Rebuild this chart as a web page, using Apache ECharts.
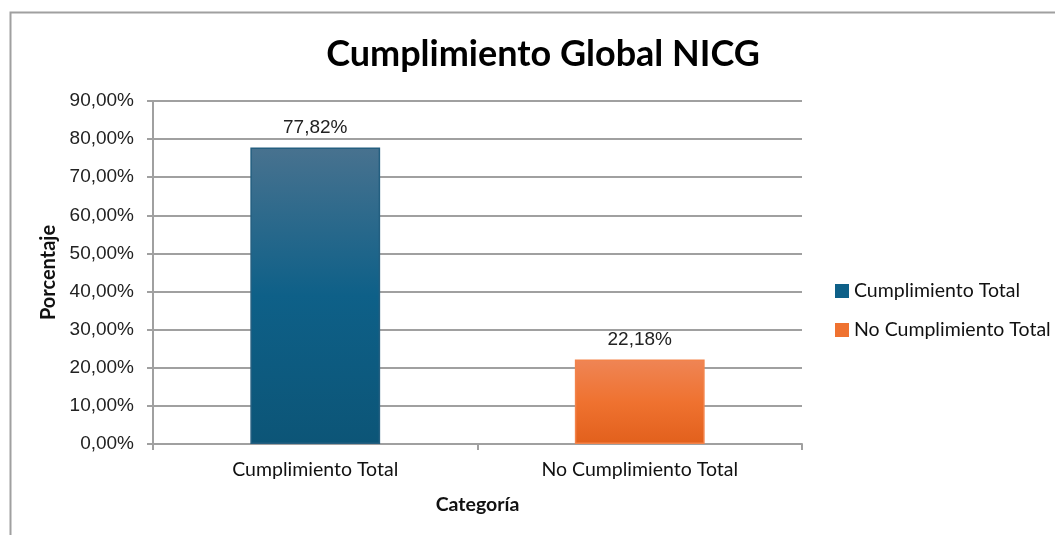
<!DOCTYPE html>
<html>
<head>
<meta charset="utf-8">
<script src="https://cdn.jsdelivr.net/npm/echarts@6/dist/echarts.min.js"></script>
<style>
  html, body { margin: 0; padding: 0; background: #fff; }
  #chart { width: 1055px; height: 535px; }
</style>
</head>
<body>
<div id="chart"></div>
<script>
  // datos del gráfico
  var categorias = ['Cumplimiento Total', 'No Cumplimiento Total']
  var valores = [77.82, 22.18]
  var colores = [
    ['#48728f', '#0e6088', '#0c5577'],
    ['#ef8555', '#ef7230', '#e2601c']
  ]
  var bordes = ['#245f80', '#f3834a']

  function pct (v) {
    return v.toFixed(2).replace('.', ',') + '%'
  }

  var chart = echarts.init(document.getElementById('chart'))

  var series = categorias.map(function (name, i) {
    return {
      name: name,
      type: 'bar',
      barWidth: '40%',
      barGap: '-100%',
      data: categorias.map(function (c, j) { return j === i ? valores[i] : '-' }),
      itemStyle: {
        color: new echarts.graphic.LinearGradient(0, 0, 0, 1, [
          {offset: 0, color: colores[i][0]},
          {offset: 0.5, color: colores[i][1]},
          {offset: 1, color: colores[i][2]}
        ]),
        borderColor: bordes[i],
        borderWidth: 1.5
      },
      label: {
        show: true,
        position: 'top',
        distance: 10,
        color: '#222',
        fontFamily: 'Liberation Sans',
        fontSize: 19,
        formatter: function (p) { return pct(p.value) }
      }
    }
  })

  chart.setOption({
    animation: false,
    title: {
      text: 'Cumplimiento Global NICG',
      left: 538,
      top: 31,
      textAlign: 'center',
      textStyle: { fontFamily: 'Lato', fontWeight: 'bold', fontSize: 36, color: '#000' }
    },
    graphic: [{
      type: 'rect',
      shape: {x: 10.5, y: 12.5, width: 1100, height: 600},
      style: {fill: 'none', stroke: '#a0a0a0', lineWidth: 2},
      silent: true
    }],
    legend: {
      orient: 'vertical',
      left: 830,
      top: 276,
      itemGap: 19,
      itemWidth: 14,
      itemHeight: 14,
      icon: 'rect',
      data: categorias.map(function (c, i) {
        return {name: c, itemStyle: {color: colores[i][1], borderWidth: 0}}
      }),
      textStyle: { fontFamily: 'Lato', fontSize: 19.5, color: '#111', padding: [0, 0, 0, 0] }
    },
    grid: { left: 153, right: 253, top: 101, bottom: 91 },
    xAxis: {
      type: 'category',
      data: categorias,
      name: 'Categoría',
      nameLocation: 'middle',
      nameGap: 51,
      nameTextStyle: { fontFamily: 'Lato', fontWeight: 'bold', fontSize: 19.5, color: '#111' },
      axisLine: { lineStyle: { color: '#a0a0a0', width: 2 } },
      axisTick: { show: true, length: 6, lineStyle: { color: '#a0a0a0', width: 2 } },
      axisLabel: { fontFamily: 'Lato', fontSize: 19.5, color: '#111', margin: 16 }
    },
    yAxis: {
      type: 'value',
      min: 0,
      max: 90,
      interval: 10,
      name: 'Porcentaje',
      nameLocation: 'middle',
      nameRotate: 90,
      nameGap: 93,
      nameTextStyle: { fontFamily: 'Lato', fontWeight: 'bold', fontSize: 20, color: '#111' },
      axisLine: { show: true, lineStyle: { color: '#a0a0a0', width: 2 } },
      axisTick: { show: true, length: 6, lineStyle: { color: '#a0a0a0', width: 2 } },
      splitLine: { lineStyle: { color: '#a0a0a0', width: 2 } },
      axisLabel: {
        fontFamily: 'Liberation Sans', fontSize: 19, color: '#222', margin: 19,
        formatter: function (v) { return pct(v) }
      }
    },
    series: series
  })
</script>
</body>
</html>
